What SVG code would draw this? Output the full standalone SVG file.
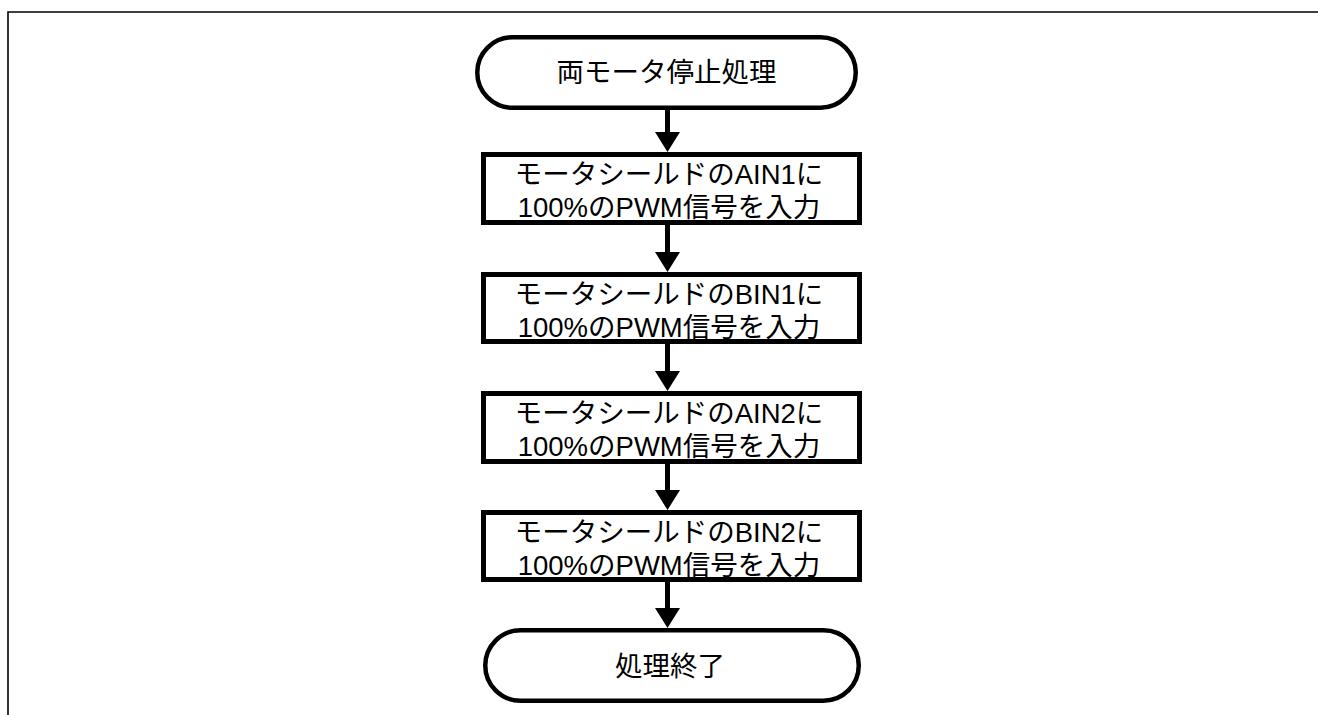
<svg xmlns="http://www.w3.org/2000/svg" width="1318" height="715" viewBox="0 0 1318 715">
<defs>
<style>
.frame{fill:none;stroke:#000;stroke-width:1.6}
.term{fill:#fff;stroke:#000;stroke-width:4.5}
.box{fill:#fff;stroke:#000;stroke-width:5}
.lbl{font-family:"Liberation Sans","Noto Sans CJK JP",sans-serif;font-size:27.5px;fill:#000;text-anchor:middle}
.shaft{stroke:#000;stroke-width:5;fill:none}
.head{fill:#000}
</style>
</defs>
<rect width="1318" height="715" fill="#fff"/>
<path class="frame" d="M8,715 V12 H1318"/>
<g id="connectors">
<line class="shaft" x1="667.5" y1="110" x2="667.5" y2="134"/>
<polygon class="head" points="655,132 680,132 667.5,152"/>
<line class="shaft" x1="667.5" y1="225" x2="667.5" y2="254"/>
<polygon class="head" points="655,252 680,252 667.5,272"/>
<line class="shaft" x1="667.5" y1="344" x2="667.5" y2="373"/>
<polygon class="head" points="655,371 680,371 667.5,391"/>
<line class="shaft" x1="667.5" y1="464" x2="667.5" y2="492"/>
<polygon class="head" points="655,490 680,490 667.5,510"/>
<line class="shaft" x1="667.5" y1="582" x2="667.5" y2="610"/>
<polygon class="head" points="655,608 680,608 667.5,628"/>
</g>
<g id="start">
<rect class="term" x="477.25" y="37.25" width="378.5" height="70.5" rx="35.25" ry="35.25"/>
<text class="lbl" x="666.5" y="82">両モータ停止処理</text>
</g>
<g id="step1">
<rect class="box" x="483.5" y="154.5" width="376" height="68"/>
<text class="lbl" x="669" y="184">モータシールドのAIN1に</text>
<text class="lbl" x="669" y="217">100%のPWM信号を入力</text>
</g>
<g id="step2">
<rect class="box" x="483.5" y="274.5" width="376" height="67"/>
<text class="lbl" x="669" y="304">モータシールドのBIN1に</text>
<text class="lbl" x="669" y="337">100%のPWM信号を入力</text>
</g>
<g id="step3">
<rect class="box" x="483.5" y="393.5" width="376" height="68"/>
<text class="lbl" x="669" y="423">モータシールドのAIN2に</text>
<text class="lbl" x="669" y="456">100%のPWM信号を入力</text>
</g>
<g id="step4">
<rect class="box" x="483.5" y="512.5" width="376" height="67"/>
<text class="lbl" x="669" y="542">モータシールドのBIN2に</text>
<text class="lbl" x="669" y="575">100%のPWM信号を入力</text>
</g>
<g id="end">
<rect class="term" x="485.25" y="630.25" width="373.5" height="70.5" rx="35.25" ry="35.25"/>
<text class="lbl" x="670" y="676">処理終了</text>
</g>
</svg>
